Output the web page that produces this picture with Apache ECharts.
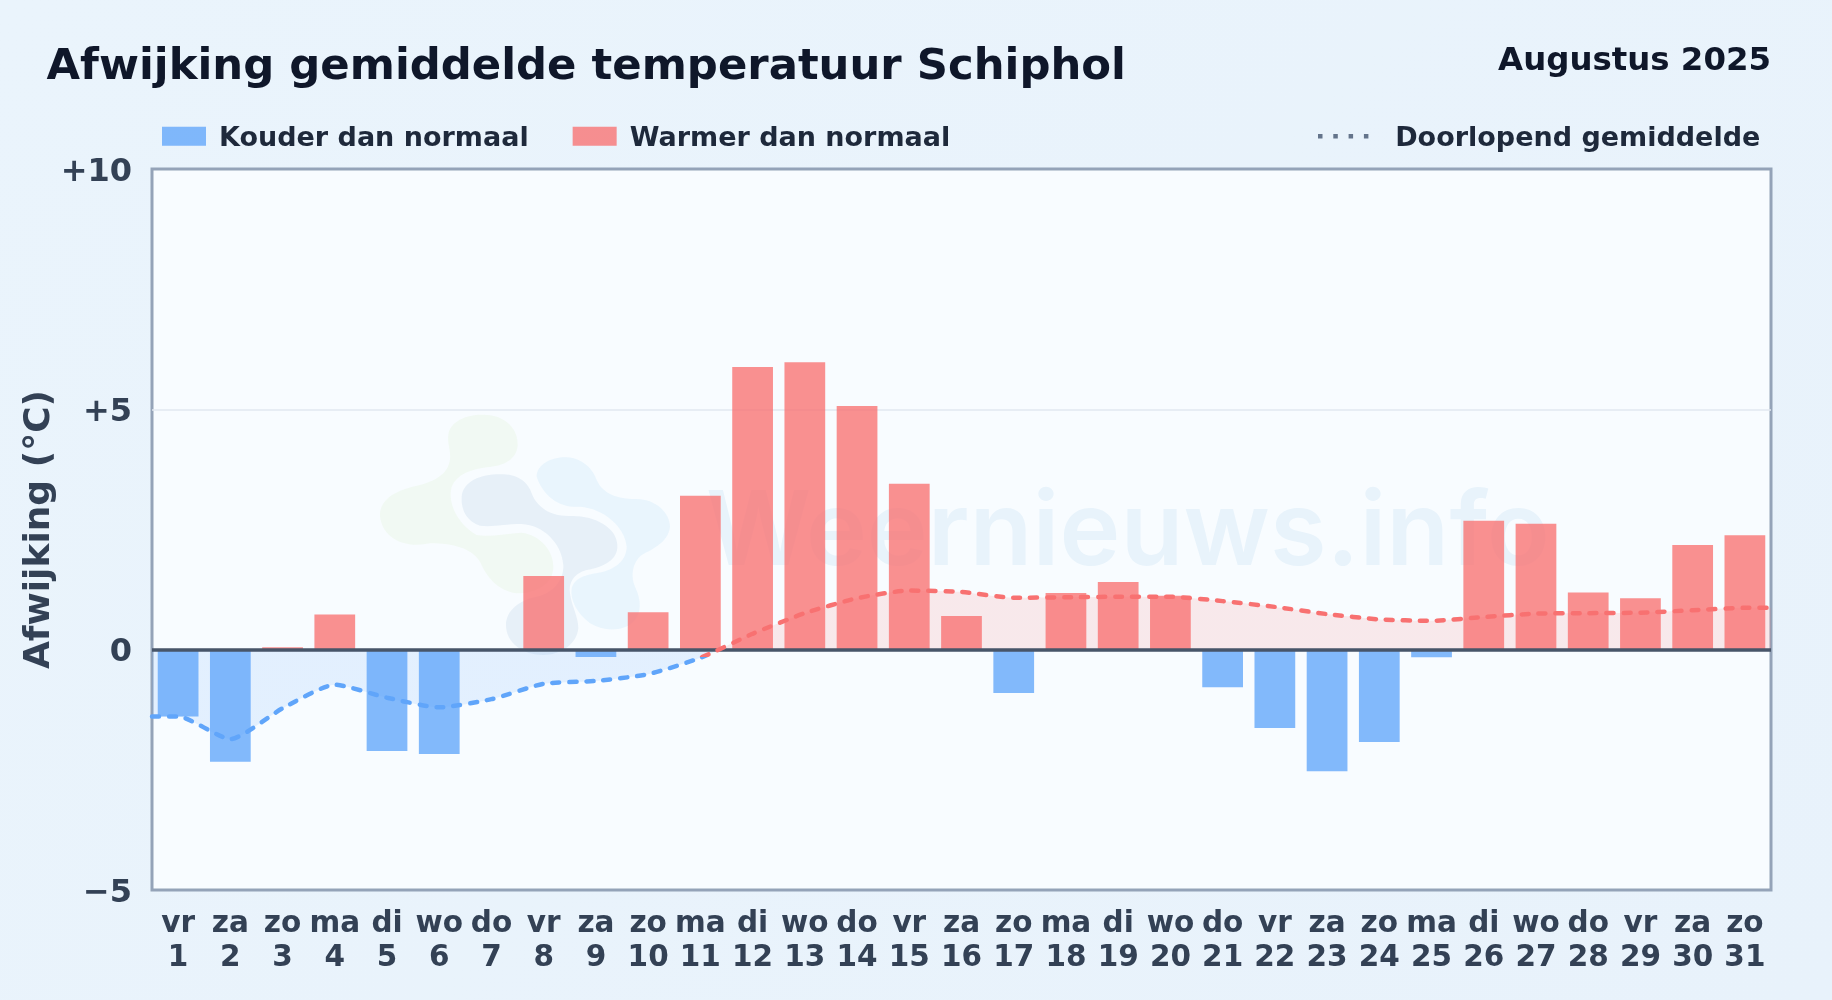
<!DOCTYPE html>
<html>
<head>
<meta charset="utf-8">
<title>Afwijking gemiddelde temperatuur Schiphol</title>
<script src="https://cdn.jsdelivr.net/npm/echarts@6/dist/echarts.min.js"></script>
<style>
html,body{margin:0;padding:0;width:100%;height:100%;background:linear-gradient(135deg,#eaf4fc,#e8f2fb);}
#chart{width:1832px;height:1000px;}
</style>
</head>
<body>
<div id="chart"></div>
<script>
const titleText = 'Afwijking gemiddelde temperatuur Schiphol';
const monthText = 'Augustus 2025';
const watermarkText = 'Weernieuws.info';
const weekdays = ['vr','za','zo','ma','di','wo','do','vr','za','zo','ma','di','wo','do','vr','za','zo','ma','di','wo','do','vr','za','zo','ma','di','wo','do','vr','za','zo'];
const days = [1,2,3,4,5,6,7,8,9,10,11,12,13,14,15,16,17,18,19,20,21,22,23,24,25,26,27,28,29,30,31];
const anomaly = [-1.39,-2.33,0.05,0.73,-2.11,-2.17,0,1.53,-0.15,0.78,3.2,5.88,5.98,5.07,3.45,0.7,-0.9,1.18,1.41,1.12,-0.78,-1.63,-2.53,-1.92,-0.16,2.68,2.62,1.19,1.07,2.18,2.38];
const runningMean = [-1.39,-1.86,-1.22,-0.73,-1.0,-1.2,-1.03,-0.71,-0.65,-0.51,-0.17,0.33,0.76,1.07,1.23,1.2,1.08,1.09,1.1,1.1,1.01,0.89,0.74,0.63,0.6,0.68,0.75,0.76,0.77,0.82,0.87];
const yTicks = {'10':'+10','5':'+5','0':'0','-5':'−5'};

const FONT = '"DejaVu Sans"';
const categories = weekdays.map((d,i)=>d+'\n'+days[i]);
const cold = anomaly.map(v=>v<0?v:null);
const warm = anomaly.map(v=>v>=0?v:null);
const linePts = [[0.5,runningMean[0]]].concat(runningMean.map((v,i)=>[days[i],v]),[[31.5,runningMean[30]]]);

const blobA='M325 165C330 120 390 100 440 105C500 108 535 150 533 195C530 240 490 258 440 262C390 268 350 285 335 320C322 365 350 430 410 465C450 472 500 460 545 458C600 465 640 510 640 560C640 610 590 640 530 640C470 630 440 590 420 545C395 505 340 490 270 490C200 505 130 480 120 410C118 355 170 330 240 315C300 300 335 270 330 220C328 195 322 185 325 165Z';
const blobB='M365 350C370 300 430 280 490 283C540 285 565 310 575 340C590 380 630 410 690 408C760 405 830 440 832 495C835 540 790 562 740 570C700 580 685 610 690 640C695 680 715 710 715 745C710 795 660 825 610 825C550 825 498 790 498 735C498 690 540 660 590 650C640 640 672 600 670 555C665 490 610 435 545 432C490 432 460 442 420 437C385 425 362 395 365 350Z';
const blobC='M590 290C590 250 640 230 680 232C730 235 760 270 770 300C790 345 840 358 890 357C950 358 990 400 990 440C985 490 930 510 905 525C875 550 872 590 885 620C905 660 905 700 880 725C850 755 790 755 750 730C710 700 690 660 695 625C705 590 740 585 775 578C825 570 860 540 860 500C855 440 790 385 720 380C660 385 610 350 590 290Z';
echarts.graphic.registerShape('blobA',echarts.graphic.extendPath(blobA,{}));
echarts.graphic.registerShape('blobB',echarts.graphic.extendPath(blobB,{}));
echarts.graphic.registerShape('blobC',echarts.graphic.extendPath(blobC,{}));
const blob=(t,c)=>({type:t,shape:{},x:340,y:380,scaleX:1/3,scaleY:1/3,z:1,silent:true,style:{fill:c}});
const legendRich=(pl)=>({t:{fontFamily:FONT,fontSize:27,fontWeight:'bold',color:'#1e293b',padding:[5,0,0,pl]}});

const chart = echarts.init(document.getElementById('chart'),null,{renderer:'canvas'});
chart.setOption({
  animation:false,
  textStyle:{fontFamily:FONT},
  title:[
    {text:titleText,left:46.5,top:46,padding:0,textStyle:{fontFamily:FONT,fontSize:43.35,fontWeight:'bold',color:'#0f172a'}},
    {text:monthText,right:61,top:46,padding:0,textStyle:{fontFamily:FONT,fontSize:32.4,fontWeight:'bold',color:'#0f172a'}}
  ],
  legend:[
    {left:162,top:125.3,padding:0,itemWidth:44,itemHeight:19,itemGap:44,icon:'rect',selectedMode:false,
     formatter:n=>'{t|'+n+'}',textStyle:{fontFamily:FONT,fontSize:27,fontWeight:'bold',rich:legendRich(8)},
     data:[{name:'Kouder dan normaal',itemStyle:{color:'rgba(96,165,250,0.78)'}},{name:'Warmer dan normaal',itemStyle:{color:'rgba(248,113,113,0.78)'}}]},
    {left:1318,top:125.3,padding:0,itemWidth:58,itemHeight:4.5,selectedMode:false,
     formatter:n=>'{t|'+n+'}',textStyle:{fontFamily:FONT,fontSize:27,fontWeight:'bold',rich:legendRich(18)},
     data:[{name:'Doorlopend gemiddelde',icon:'path://M0 0h5v5H0zM17 0h5v5h-5zM34 0h5v5h-5zM51 0h5v5h-5z',itemStyle:{color:'#64748b'}}]}
  ],
  grid:{left:152,right:61,top:169,bottom:110,containLabel:false,show:true,backgroundColor:'#f8fcff',borderColor:'#94a3b8',borderWidth:3,z:0},
  xAxis:[
    {type:'category',data:categories,boundaryGap:true,axisTick:{show:false},axisLine:{show:false},splitLine:{show:false},
     axisLabel:{interval:0,margin:17,fontFamily:FONT,fontSize:29.5,fontWeight:'bold',color:'#334155',lineHeight:34,align:'center'}},
    {type:'value',min:0.5,max:31.5,show:false,splitLine:{show:false}}
  ],
  yAxis:{type:'value',min:-5,max:10,interval:5,name:'Afwijking (°C)',nameLocation:'middle',nameGap:94,nameRotate:90,nameMoveOverlap:false,
    nameTextStyle:{fontFamily:FONT,fontSize:36,fontWeight:'bold',color:'#334155'},
    axisLine:{show:false},axisTick:{show:false},
    splitLine:{show:true,showMinLine:false,showMaxLine:false,lineStyle:{color:'#e2e8f0',width:1.6}},
    axisLabel:{margin:20,formatter:v=>'{v|'+yTicks[String(v)]+'}',
      rich:{v:{fontFamily:FONT,fontSize:32,fontWeight:'bold',color:'#334155',padding:[7,0,0,0]}}}},
  visualMap:[
    {show:false,type:'piecewise',dimension:1,seriesIndex:2,pieces:[{gte:-100,lt:0,color:'#60a5fa'},{gte:0,lte:100,color:'#f87171'}]},
    {show:false,type:'piecewise',dimension:1,seriesIndex:3,pieces:[{gte:-100,lt:-0.15,color:'#60a5fa'},{gte:-0.15,lte:100,color:'#f87171'}]}
  ],
  series:[
    {name:'Kouder dan normaal',type:'bar',data:cold,xAxisIndex:0,barWidth:'78%',barGap:'-100%',z:3,silent:true,
     itemStyle:{color:'rgba(96,165,250,0.78)'}},
    {name:'Warmer dan normaal',type:'bar',data:warm,xAxisIndex:0,barWidth:'78%',barGap:'-100%',z:3,silent:true,
     itemStyle:{color:'rgba(248,113,113,0.78)'}},
    {name:'Gemiddelde vlak',type:'line',data:linePts,xAxisIndex:1,smooth:0.2,symbol:'none',z:2,silent:true,
     lineStyle:{width:0,opacity:0},areaStyle:{origin:0,opacity:0.14}},
    {name:'Doorlopend gemiddelde',type:'line',data:linePts,xAxisIndex:1,smooth:0.2,symbol:'none',z:5,silent:true,
     lineStyle:{width:4.5,type:[7,10],cap:'round'},
     markLine:{silent:true,symbol:'none',label:{show:false},animation:false,data:[{yAxis:0}],lineStyle:{color:'#475569',width:3.5,type:'solid'}}}
  ],
  graphic:{elements:[
    blob('blobA','rgba(133,200,55,0.06)'),blob('blobB','rgba(37,100,167,0.08)'),blob('blobC','rgba(70,170,235,0.08)'),
    {type:'text',x:706,y:483,z:1,silent:true,style:{text:watermarkText,fontFamily:'Inter',fontWeight:600,fontSize:103,fill:'rgba(34,122,196,0.07)'}}
  ]}
});
</script>
</body>
</html>
